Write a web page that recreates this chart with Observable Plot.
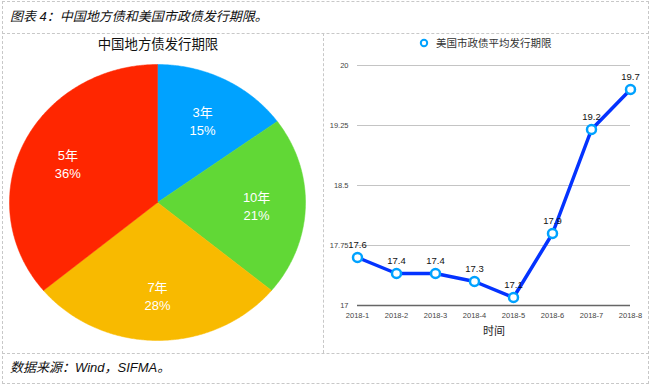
<!DOCTYPE html>
<html>
<head>
<meta charset="utf-8">
<script src="https://cdn.jsdelivr.net/npm/d3@7"></script>
<script src="https://cdn.jsdelivr.net/npm/@observablehq/plot@0.6"></script>
<style>
  html, body { margin: 0; padding: 0; background: #fff; }
  #root { position: relative; width: 652px; height: 387px; overflow: hidden;
          font-family: "Liberation Sans", "Noto Sans CJK SC", sans-serif; }
  .dash { position: absolute; border-color: #c8c8c8; border-style: dashed; border-width: 0; }
  .abs { position: absolute; white-space: nowrap; }
  #pie, #line { position: absolute; }
</style>
</head>
<body>
<div id="root">
  <div class="dash" style="left:2px;top:1px;width:645px;height:381px;border-width:1px;"></div>
  <div class="dash" style="left:2px;top:33px;width:647px;height:0;border-top-width:1px;"></div>
  <div class="dash" style="left:2px;top:353px;width:647px;height:0;border-top-width:1px;"></div>
  <div class="dash" style="left:323px;top:33px;width:0;height:320px;border-left-width:1px;"></div>
  <div class="abs" id="title" style="left:10px;top:6px;font-size:13px;font-style:italic;color:#111;"></div>
  <div class="abs" id="pieTitle" style="left:3px;width:310px;top:33px;text-align:center;font-size:13.4px;color:#111;"></div>
  <div class="abs" id="legend" style="left:418px;top:35px;font-size:10.5px;color:#333;display:flex;align-items:center;"></div>
  <div class="abs" id="source" style="left:10px;top:357px;font-size:13px;font-style:italic;color:#111;"></div>
  <div id="pie" style="left:3px;top:33px;"></div>
  <div id="line" style="left:323px;top:33px;"></div>
</div>
<script>
// ---- Texts ----
const chartTitle = "图表 4：中国地方债和美国市政债发行期限。";
const pieTitle = "中国地方债发行期限";
const lineLegend = "美国市政债平均发行期限";
const xAxisTitle = "时间";
const sourceText = "数据来源：Wind，SIFMA。";

// ---- Pie data ----
const pieCategories = ["3年", "10年", "7年", "5年"];
const pieShares = [15, 21, 28, 36];
const pieColors = ["#00A2FF", "#61D836", "#F8BA00", "#FF2600"];

// ---- Line data ----
const months = ["2018-1", "2018-2", "2018-3", "2018-4", "2018-5", "2018-6", "2018-7", "2018-8"];
const tenor = [17.6, 17.4, 17.4, 17.3, 17.1, 17.9, 19.2, 19.7];
const yTicks = [17, 17.75, 18.5, 19.25, 20];

const FONT = "Liberation Sans, Noto Sans CJK SC, sans-serif";

document.getElementById("title").textContent = chartTitle;
document.getElementById("pieTitle").textContent = pieTitle;
document.getElementById("source").textContent = sourceText;
document.getElementById("legend").innerHTML =
  '<svg width="12" height="12" style="margin-right:6px"><circle cx="6" cy="6" r="3.2" fill="white" stroke="#00A2FF" stroke-width="2"/></svg><span></span>';
document.querySelector("#legend span").textContent = lineLegend;

// ---- Pie geometry from shares ----
const total = d3.sum(pieShares);
const slicePts = [];
const pieLabels = [];
let acc = 0;
pieCategories.forEach((c, i) => {
  const a0 = acc / total * 2 * Math.PI;
  acc += pieShares[i];
  const a1 = acc / total * 2 * Math.PI;
  slicePts.push({cat: c, x: 0, y: 0});
  const n = Math.ceil((a1 - a0) / (Math.PI / 360));
  for (let k = 0; k <= n; k++) {
    const a = a0 + (a1 - a0) * k / n;
    slicePts.push({cat: c, x: Math.sin(a), y: Math.cos(a)});
  }
  slicePts.push({cat: c, x: 0, y: 0});
  const am = (a0 + a1) / 2;
  pieLabels.push({cat: c, x: 0.67 * Math.sin(am), y: 0.67 * Math.cos(am), text: `${c}\n${pieShares[i]}%`});
});

const pie = Plot.plot({
  width: 320, height: 320,
  marginLeft: 6, marginRight: 18, marginTop: 31, marginBottom: 13,
  x: {domain: [-1, 1], axis: null},
  y: {domain: [-1, 1], axis: null},
  color: {domain: pieCategories, range: pieColors},
  style: {fontFamily: FONT, background: "transparent"},
  marks: [
    Plot.line(slicePts, {x: "x", y: "y", z: "cat", fill: "cat", stroke: "cat", strokeWidth: 0.5, curve: "linear"}),
    Plot.text(pieLabels, {x: "x", y: "y", text: "text", fill: "white", fontSize: 13, lineHeight: 1.38})
  ]
});
document.getElementById("pie").appendChild(pie);

// ---- Line chart ----
const lineData = months.map((m, i) => ({month: m, value: tenor[i]}));
const line = Plot.plot({
  width: 326, height: 320,
  marginLeft: 34, marginRight: 19, marginTop: 32, marginBottom: 48,
  x: {type: "point", domain: months, padding: 0},
  y: {domain: [17, 20]},
  style: {fontFamily: FONT, background: "transparent"},
  marks: [
    Plot.ruleY(yTicks.slice(1), {stroke: "#c4c4c4", strokeWidth: 1}),
    Plot.ruleY([yTicks[0]], {stroke: "#666", strokeWidth: 1.5}),
    Plot.axisY({ticks: yTicks, tickSize: 0, tickPadding: 9, fontSize: 7.5, fill: "#444", label: null, tickFormat: d => String(d)}),
    Plot.axisX({tickSize: 0, tickPadding: 7, fontSize: 7.5, fill: "#444", label: null}),
    Plot.line(lineData, {x: "month", y: "value", stroke: "#0433FF", strokeWidth: 3.5}),
    Plot.dot(lineData, {x: "month", y: "value", r: 4.5, fill: "white", stroke: "#00A2FF", strokeWidth: 2.5}),
    Plot.text(lineData, {x: "month", y: "value", text: d => d.value.toFixed(1), dy: -13, fontSize: 9.5, fill: "#111"}),
    Plot.text([xAxisTitle], {frameAnchor: "bottom", dy: 29, fontSize: 11, fill: "#222"})
  ]
});
document.getElementById("line").appendChild(line);
</script>
</body>
</html>
